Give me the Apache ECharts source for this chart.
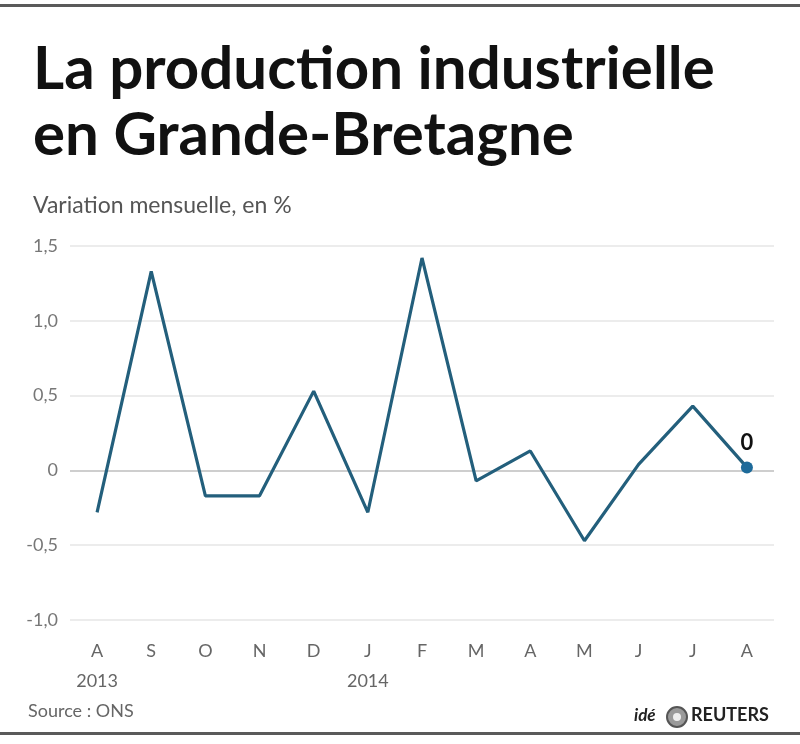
<!DOCTYPE html>
<html>
<head>
<meta charset="utf-8">
<script src="https://cdn.jsdelivr.net/npm/echarts@6/dist/echarts.min.js"></script>
<style>
  html, body { margin: 0; padding: 0; background: #fff; }
  #chart { width: 800px; height: 744px; }
</style>
</head>
<body>
<div id="chart"></div>
<script>
// mois (août 2013 - août 2014)
var months = ["A", "S", "O", "N", "D", "J", "F", "M", "A", "M", "J", "J", "A"];
var years = ["2013", "", "", "", "", "2014", "", "", "", "", "", "", ""];
// variation mensuelle, en %
var variation = [-0.28, 1.33, -0.17, -0.17, 0.53, -0.28, 1.42, -0.07, 0.13, -0.47, 0.04, 0.43, 0.02];
var yTicks = [-1.0, -0.5, 0, 0.5, 1.0, 1.5];
var lastLabel = "0";

var chart = echarts.init(document.getElementById("chart"));

function fmtTick(v) {
  if (v === 0) return "0";
  return v.toFixed(1).replace(".", ",");
}

var option = {
  backgroundColor: "#fff",
  animation: false,
  title: [
    {
      text: "La production industrielle\nen Grande-Bretagne",
      left: 33,
      top: 37,
      padding: 0,
      textStyle: {
        fontFamily: "Lato",
        fontWeight: "bold",
        fontSize: 60,
        lineHeight: 66,
        color: "#111"
      }
    },
    {
      text: "Variation mensuelle, en %",
      left: 33,
      top: 194,
      padding: 0,
      textStyle: {
        fontFamily: "Lato",
        fontWeight: "normal",
        fontSize: 23,
        color: "#555"
      }
    }
  ],
  grid: {
    left: 70,
    right: 26,
    top: 246,
    bottom: 124
  },
  xAxis: {
    type: "category",
    data: months,
    boundaryGap: true,
    axisLine: { show: false },
    axisTick: { show: false },
    axisLabel: {
      interval: 0,
      margin: 16,
      color: "#666",
      fontFamily: "Lato",
      fontSize: 18,
      lineHeight: 30,
      formatter: function (v, i) {
        return years[i] ? v + "\n" + years[i] : v;
      }
    }
  },
  yAxis: {
    type: "value",
    min: yTicks[0],
    max: yTicks[yTicks.length - 1],
    interval: 0.5,
    axisLine: { show: false },
    axisTick: { show: false },
    axisLabel: {
      margin: 12,
      color: "#777",
      fontFamily: "Lato",
      fontSize: 18,
      formatter: fmtTick
    },
    splitLine: {
      lineStyle: { color: "#e6e6e6", width: 1.5 }
    }
  },
  series: [
    {
      type: "line",
      data: variation.map(function (v, i) {
        if (i === variation.length - 1) {
          return {
            value: v,
            symbol: "circle",
            symbolSize: 12,
            itemStyle: { color: "#1d6a9a" },
            label: {
              show: true,
              position: "top",
              distance: 8,
              formatter: lastLabel,
              color: "#111",
              fontFamily: "Lato",
              fontWeight: "bold",
              fontSize: 22
            }
          };
        }
        return v;
      }),
      symbol: "none",
      showSymbol: true,
      lineStyle: { color: "#235f7c", width: 3.2 },
      itemStyle: { color: "#235f7c" },
      markLine: {
        silent: true,
        symbol: "none",
        label: { show: false },
        lineStyle: { color: "#c4c4c4", width: 1.5, type: "solid" },
        data: [{ yAxis: 0 }]
      },
      z: 5
    }
  ],
  graphic: [
    { type: "rect", left: 0, top: 4, shape: { width: 800, height: 3 }, style: { fill: "#5a5a5a" } },
    { type: "rect", left: 0, top: 732, shape: { width: 800, height: 3 }, style: { fill: "#5a5a5a" } },
    {
      type: "text", left: 28, top: 702,
      style: { text: "Source : ONS", fill: "#666", font: "18px Lato" }
    },
    {
      type: "text", left: 634, top: 707,
      style: { text: "idé", fill: "#222", font: "italic bold 17px Lato" }
    },
    {
      type: "circle", shape: { cx: 677, cy: 717, r: 10 },
      style: { fill: "#9a9a9a", stroke: "#555", lineWidth: 2 }
    },
    {
      type: "circle", shape: { cx: 677, cy: 717, r: 4 },
      style: { fill: "#eee" }
    },
    {
      type: "text", left: 691, top: 706,
      style: { text: "REUTERS", fill: "#222", font: "bold 18px Lato" }
    }
  ]
};

chart.setOption(option);
</script>
</body>
</html>
